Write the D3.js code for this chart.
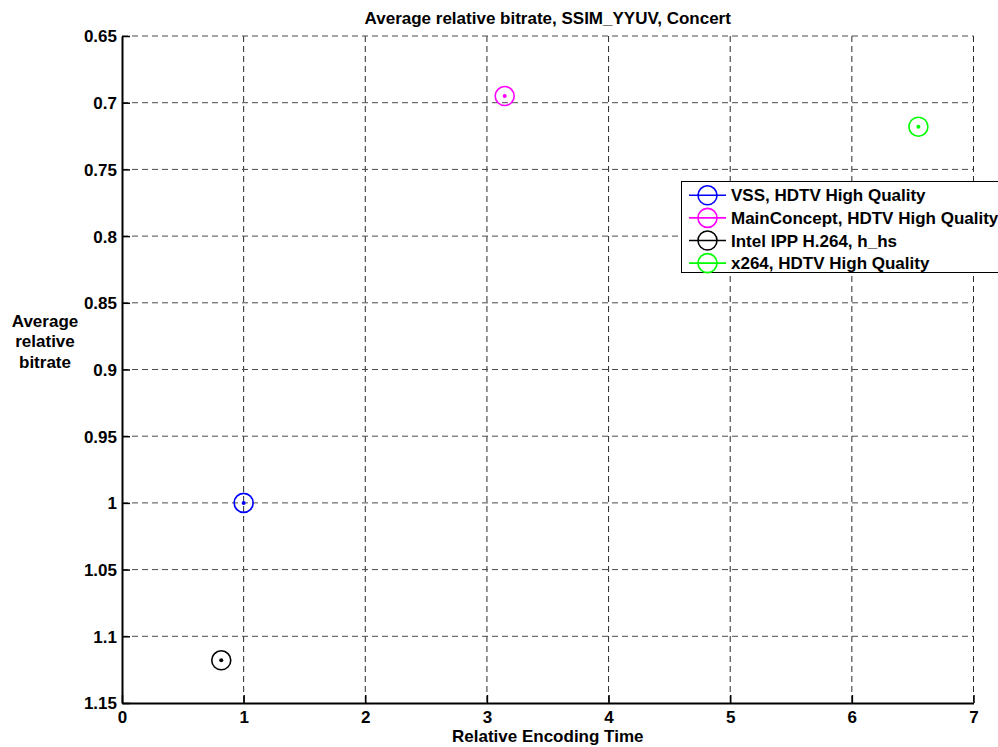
<!DOCTYPE html>
<html><head><meta charset="utf-8">
<script src="https://cdn.jsdelivr.net/npm/d3@7"></script>
<style>html,body{margin:0;padding:0;background:#fff;overflow:hidden}</style>
</head><body>
<svg id="chart" width="998" height="747"></svg>
<script>
const seriesNames = ["VSS, HDTV High Quality","MainConcept, HDTV High Quality","Intel IPP H.264, h_hs","x264, HDTV High Quality"];
const seriesColors = ["#0000ff","#ff00ff","#000000","#00ff00"];
const encTime = [1.0, 3.146, 0.816, 6.547];
const relBitrate = [1.0, 0.695, 1.118, 0.718];
const xTicks = [0,1,2,3,4,5,6,7];
const yTicks = [0.65,0.7,0.75,0.8,0.85,0.9,0.95,1,1.05,1.1,1.15];

const svg = d3.select("#chart");
const font = "'Liberation Sans', Arial, sans-serif";
const FS = 17;
const L = 122, R = 973.5, T = 36, B = 703;
const x = d3.scaleLinear().domain([0,7]).range([L,R]);
const y = d3.scaleLinear().domain([0.65,1.15]).range([T,B]);

// grid
const g = svg.append("g");
g.selectAll("line.vg").data(xTicks.slice(1)).enter().append("line")
  .attr("x1",d=>x(d)).attr("x2",d=>x(d)).attr("y1",T).attr("y2",B)
  .attr("stroke","#2a2a2a").attr("stroke-width",1).attr("stroke-dasharray","6,4");
g.selectAll("line.hg").data(yTicks.slice(0,-1)).enter().append("line")
  .attr("x1",L).attr("x2",R).attr("y1",d=>y(d)).attr("y2",d=>y(d))
  .attr("stroke","#4a4a4a").attr("stroke-width",1).attr("stroke-dasharray","6,4");

// axes
const yAxis = d3.axisLeft(y).tickValues(yTicks).tickFormat(d=>String(+d.toFixed(2))).tickSizeInner(-8).tickSizeOuter(0).tickPadding(12);
const xAxis = d3.axisBottom(x).tickValues(xTicks).tickFormat(d3.format("d")).tickSizeInner(-8).tickSizeOuter(0).tickPadding(14);
const ya = svg.append("g").attr("transform",`translate(${L},0)`).call(yAxis);
const xa = svg.append("g").attr("transform",`translate(0,${B})`).call(xAxis);
[ya,xa].forEach(a=>{
  a.select(".domain").attr("stroke","#000").attr("stroke-width",2);
  a.selectAll(".tick line").attr("stroke","#000").attr("stroke-width",1.5);
  a.selectAll("text").attr("font-family",font).attr("font-weight","bold").attr("font-size",FS).attr("fill","#000");
});
ya.selectAll(".tick text").attr("x",-5).attr("dy","0.35em");
xa.selectAll(".tick text").attr("y",8).attr("dy","0.71em");

// points
const pts = svg.append("g").selectAll("g").data(seriesNames.map((n,i)=>i)).enter().append("g")
  .attr("transform",i=>`translate(${x(encTime[i])},${y(relBitrate[i])})`);
pts.append("circle").attr("r",9.5).attr("fill","none").attr("stroke",i=>seriesColors[i]).attr("stroke-width",1.6);
pts.append("circle").attr("r",2).attr("fill",i=>seriesColors[i]);

// title and labels
svg.append("text").attr("x",(L+R)/2).attr("y",24).attr("text-anchor","middle")
  .attr("font-family",font).attr("font-weight","bold").attr("font-size",FS).text("Average relative bitrate, SSIM_YYUV, Concert");
svg.append("text").attr("x",(L+R)/2).attr("y",742).attr("text-anchor","middle")
  .attr("font-family",font).attr("font-weight","bold").attr("font-size",FS).text("Relative Encoding Time");
const yl = svg.append("text").attr("text-anchor","middle").attr("font-family",font).attr("font-weight","bold").attr("font-size",FS);
["Average","relative","bitrate"].forEach((t,i)=>yl.append("tspan").attr("x",45).attr("y",327+i*20.3).text(t));

// legend
const lg = svg.append("g");
lg.append("rect").attr("x",681.5).attr("y",181.5).attr("width",340).attr("height",91).attr("fill","#fff").attr("stroke","#000").attr("stroke-width",1);
const rowY = i=>195.3 + i*22.6;
seriesNames.forEach((n,i)=>{
  lg.append("line").attr("x1",689).attr("x2",726).attr("y1",rowY(i)).attr("y2",rowY(i)).attr("stroke",seriesColors[i]).attr("stroke-width",1.6);
  lg.append("circle").attr("cx",707.5).attr("cy",rowY(i)).attr("r",9.5).attr("fill","none").attr("stroke",seriesColors[i]).attr("stroke-width",1.6);
  lg.append("text").attr("x",731).attr("y",rowY(i)).attr("dy","0.36em").attr("font-family",font).attr("font-weight","bold").attr("font-size",FS).text(n);
});
</script>
</body></html>
